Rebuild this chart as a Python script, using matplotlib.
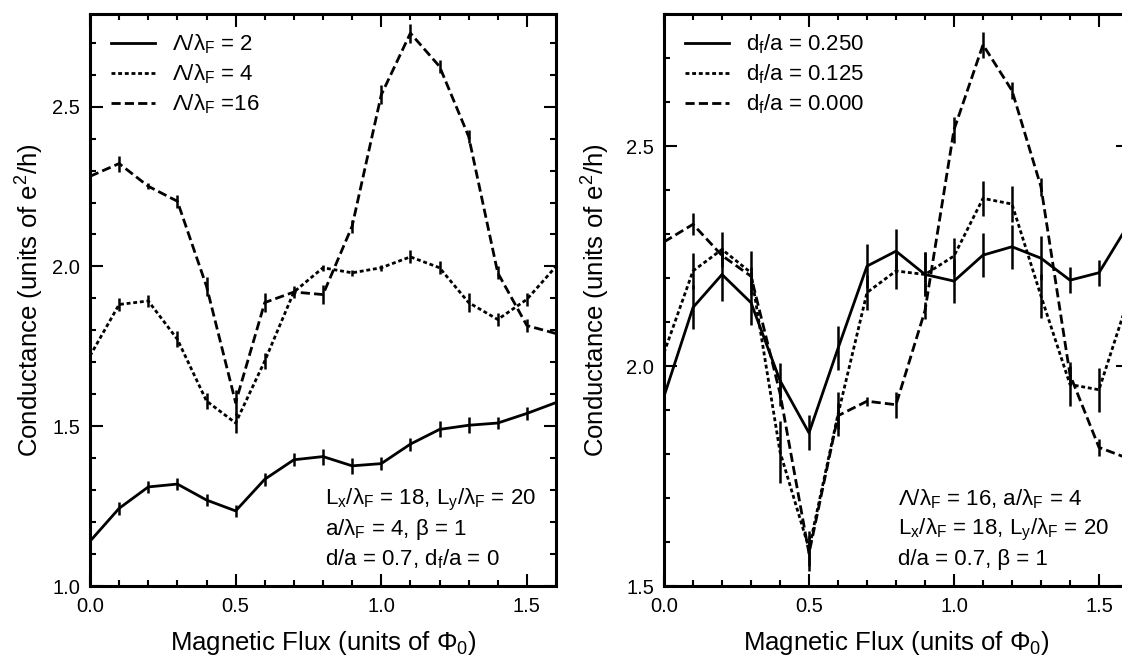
import matplotlib
matplotlib.use("Agg")
import matplotlib.pyplot as plt
from matplotlib.ticker import MultipleLocator, FormatStrFormatter

plt.rcParams['font.family'] = ['Liberation Sans', 'DejaVu Sans']
plt.rcParams['mathtext.fontset'] = 'custom'
plt.rcParams['mathtext.rm'] = 'Liberation Sans'

# flux values (units of Phi_0)
flux = [0.0, 0.1, 0.2, 0.3, 0.4, 0.5, 0.6, 0.7, 0.8, 0.9, 1.0, 1.1, 1.2, 1.3, 1.4, 1.5, 1.6]

# left panel: different Lambda/lambda_F
lam2 = [1.14, 1.243, 1.31, 1.319, 1.269, 1.235, 1.334, 1.395, 1.405, 1.376, 1.383, 1.444, 1.49, 1.503, 1.51, 1.54, 1.574]
lam4 = [1.72, 1.881, 1.892, 1.772, 1.579, 1.51, 1.704, 1.92, 1.996, 1.98, 1.996, 2.03, 1.996, 1.887, 1.834, 1.897, 2.0]
lam16 = [2.282, 2.322, 2.251, 2.204, 1.938, 1.574, 1.887, 1.92, 1.912, 2.126, 2.537, 2.73, 2.626, 2.407, 1.98, 1.815, 1.79]
err2 = [0.01, 0.02, 0.02, 0.02, 0.02, 0.02, 0.02, 0.02, 0.025, 0.025, 0.02, 0.02, 0.025, 0.025, 0.02, 0.02, 0.02]
err4 = [0.02, 0.02, 0.02, 0.025, 0.025, 0.03, 0.025, 0.02, 0.01, 0.01, 0.01, 0.02, 0.02, 0.03, 0.02, 0.02, 0.01]
err16 = [0.01, 0.025, 0.01, 0.02, 0.03, 0.04, 0.03, 0.01, 0.03, 0.02, 0.03, 0.03, 0.02, 0.02, 0.02, 0.02, 0.01]

# right panel: different d_f/a
df250 = [1.931, 2.133, 2.208, 2.144, 1.967, 1.848, 2.04, 2.227, 2.261, 2.208, 2.193, 2.252, 2.271, 2.245, 2.195, 2.212, 2.32]
df125 = [2.03, 2.216, 2.265, 2.212, 1.805, 1.585, 1.89, 2.167, 2.216, 2.208, 2.25, 2.381, 2.368, 2.159, 1.958, 1.946, 2.15]
df000 = lam16
err250 = [0.01, 0.05, 0.06, 0.05, 0.04, 0.04, 0.05, 0.05, 0.05, 0.05, 0.05, 0.05, 0.05, 0.05, 0.03, 0.03, 0.02]
err125 = [0.01, 0.04, 0.04, 0.05, 0.07, 0.04, 0.05, 0.04, 0.04, 0.05, 0.04, 0.04, 0.04, 0.05, 0.05, 0.05, 0.02]
err000 = err16

left_labels = ['Λ/λ$_\\mathregular{F}$ = 2', 'Λ/λ$_\\mathregular{F}$ = 4', 'Λ/λ$_\\mathregular{F}$ =16']
right_labels = ['d$_\\mathregular{f}$/a = 0.250', 'd$_\\mathregular{f}$/a = 0.125', 'd$_\\mathregular{f}$/a = 0.000']
left_notes = ['L$_\\mathregular{x}$/λ$_\\mathregular{F}$ = 18, L$_\\mathregular{y}$/λ$_\\mathregular{F}$ = 20',
              'a/λ$_\\mathregular{F}$ = 4, β = 1',
              'd/a = 0.7, d$_\\mathregular{f}$/a = 0']
right_notes = ['Λ/λ$_\\mathregular{F}$ = 16, a/λ$_\\mathregular{F}$ = 4',
               'L$_\\mathregular{x}$/λ$_\\mathregular{F}$ = 18, L$_\\mathregular{y}$/λ$_\\mathregular{F}$ = 20',
               'd/a = 0.7, β = 1']

dash_styles = [None, (1.4, 1.0), (3.3, 1.5)]
lw = 2.0

fig = plt.figure(figsize=(11.22, 6.55), dpi=100)
ax1 = fig.add_axes([90 / 1122, 69 / 655, 466 / 1122, 572 / 655])
ax2 = fig.add_axes([664 / 1122, 69 / 655, 464 / 1122, 572 / 655])


def draw(ax, series, errs, labels, notes, ylim, yticks, ypad):
    for ys, es, lab, dash in zip(series, errs, labels, dash_styles):
        line, = ax.plot(flux, ys, color='black', lw=lw, label=lab)
        if dash is not None:
            line.set_dashes(dash)
        ax.errorbar(flux, ys, yerr=es, fmt='none', ecolor='black', elinewidth=1.8, capsize=0)
    ax.set_xlim(0, 1.6)
    ax.set_ylim(*ylim)
    ax.set_xticks([0.0, 0.5, 1.0, 1.5])
    ax.set_yticks(yticks)
    ax.xaxis.set_minor_locator(MultipleLocator(0.1))
    ax.yaxis.set_minor_locator(MultipleLocator(0.1))
    ax.xaxis.set_major_formatter(FormatStrFormatter('%.1f'))
    ax.yaxis.set_major_formatter(FormatStrFormatter('%.1f'))
    ax.tick_params(which='both', direction='in', top=True, right=True, width=1.5, labelsize=14.5)
    ax.tick_params(which='major', length=9)
    ax.tick_params(which='minor', length=4)
    ax.tick_params(axis='x', pad=8)
    ax.tick_params(axis='y', pad=7)
    for s in ax.spines.values():
        s.set_linewidth(2.2)
    ax.set_xlabel('Magnetic Flux (units of Φ$_\\mathregular{0}$)', fontsize=18.5, labelpad=9)
    ax.set_ylabel('Conductance (units of e$^\\mathregular{2}$/h)', fontsize=18.5, labelpad=ypad)
    ax.legend(loc='upper left', bbox_to_anchor=(0.045, 0.968), frameon=False, fontsize=16,
              handlelength=2.0, handletextpad=0.75, labelspacing=0.3, borderpad=0, borderaxespad=0)
    for i, t in enumerate(notes):
        ax.text(0.505, 0.151 - i * 0.0525, t, transform=ax.transAxes, fontsize=16, va='center', ha='left')


draw(ax1, [lam2, lam4, lam16], [err2, err4, err16], left_labels, left_notes, (1.0, 2.79), [1.0, 1.5, 2.0, 2.5], 5)
draw(ax2, [df250, df125, df000], [err250, err125, err000], right_labels, right_notes, (1.5, 2.8), [1.5, 2.0, 2.5], 11)

fig.savefig('out.png', dpi=100)
